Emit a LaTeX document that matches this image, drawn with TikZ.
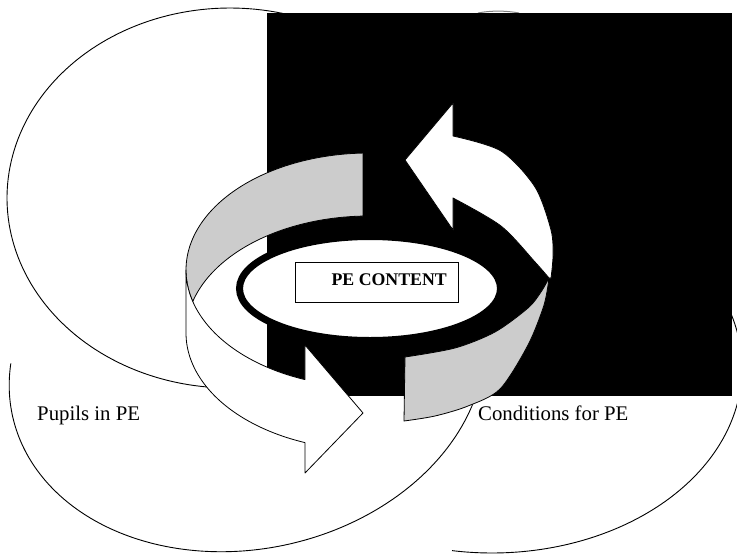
\documentclass[tikz,border=0pt]{standalone}
\usepackage{fontspec}
\setmainfont{Liberation Serif}
\definecolor{ringgray}{RGB}{204,204,204}
\tikzset{
  outline/.style={draw=black, line width=0.9pt},
  band/.style={draw=black, line width=0.8pt, line join=round},
  lbl/.style={font=\fontsize{20.8}{24}\selectfont, anchor=base west, inner sep=0pt}
}
\begin{document}
\begin{tikzpicture}[x=1pt, y=-1pt]
\useasboundingbox (0,0) rectangle (737,555);
\clip (0,0) rectangle (737,555);
% ellipse arcs
\draw[outline] plot[domain=80:287, samples=120] ({230+223*cos(\x)},{198+190*sin(\x)});
\draw[outline] plot[domain=196:15, samples=150] ({247+0.978*240*cos(\x)+0.208*184*sin(\x)},{365-0.208*240*cos(\x)+0.978*184*sin(\x)});
\draw[outline] plot[domain=99.2:-30, samples=120] ({492+250*cos(\x)},{368+185*sin(\x)});
\draw[gray, line width=1pt] (478,13) .. controls (490,10.5) and (506,10.5) .. (519,13);
% black block
\fill[black] (267,13) rectangle (732,396);
% left ribbon: grey back, white front with head
\filldraw[band, fill=ringgray] plot[domain=268.1:164.4, samples=80] ({369+183*cos(\x)},{270+117*sin(\x)}) -- plot[domain=195.6:268.1, samples=60] ({369+183*cos(\x)},{333+117*sin(\x)}) -- cycle;
\filldraw[band, fill=white] plot[domain=180:110.5, samples=60] ({369+183*cos(\x)},{270+117*sin(\x)}) -- (305,345) -- (363,413) -- (305,473) -- plot[domain=110.5:180, samples=60] ({369+183*cos(\x)},{333+117*sin(\x)}) -- cycle;
% right ribbon: white back with head, grey front
\filldraw[band, fill=white] (453,136) -- (453,103) -- (405,160) -- (453,230) -- (453,198) -- plot[smooth] coordinates {(453,198) (501,226) (535,262) (549,278)} -- plot[smooth] coordinates {(551,278) (553,256) (551,230) (535,187) (501,151) (453,136)} -- cycle;
\filldraw[band, fill=ringgray] plot[smooth] coordinates {(549,278) (544,305) (528,345) (500,389) (468,406) (435,416) (404,421)} -- (405,357) -- plot[smooth] coordinates {(405,357) (455,348) (495,332) (528,308) (541,292) (549,278)} -- cycle;
% central ring
\draw[line width=7pt, fill=white] (370,288.5) ellipse [x radius=130.5, y radius=52];
\node[draw, line width=0.8pt, minimum width=163pt, minimum height=40pt, inner sep=0pt] (box) at (376.5,282) {};
\node[font=\bfseries\fontsize{17.8}{20}\selectfont, anchor=base east, inner sep=0pt] (content) at (447,285) {PE CONTENT};
% labels
\node[lbl] (pupils) at (37,420) {Pupils in PE};
\node[lbl] (cond) at (478,420) {Conditions for PE};
\end{tikzpicture}
\end{document}
